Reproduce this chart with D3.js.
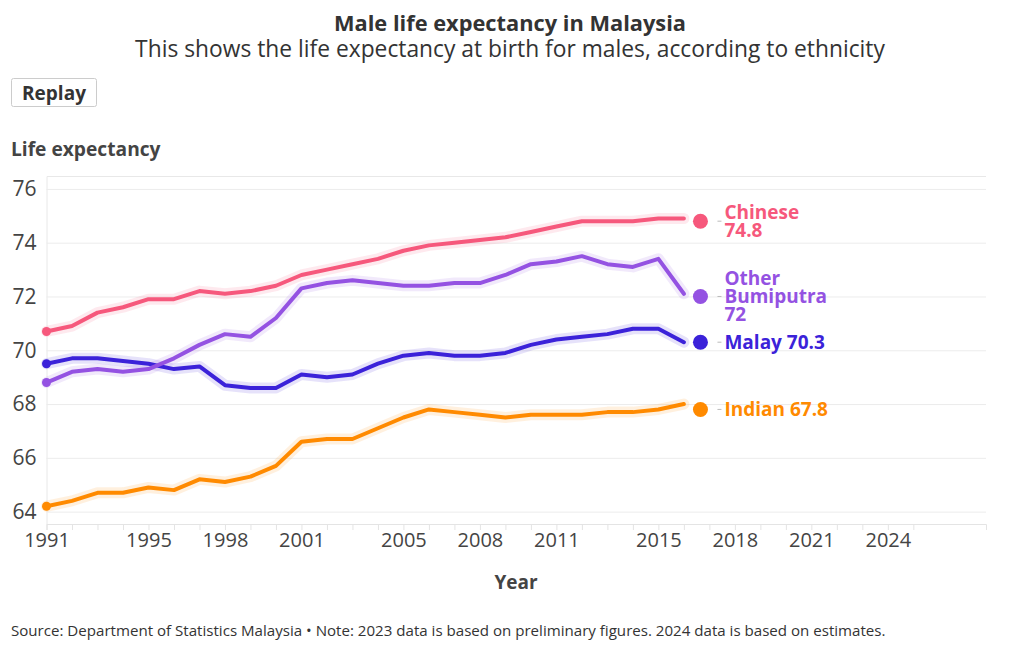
<!DOCTYPE html>
<html>
<head>
<meta charset="utf-8">
<script src="https://cdn.jsdelivr.net/npm/d3@7"></script>
<style>
  html, body { margin: 0; padding: 0; background: #fff; }
  body { width: 1020px; height: 650px; overflow: hidden; font-family: "Open Sans", "Lato", sans-serif; }
  svg { display: block; }
</style>
</head>
<body>
<svg id="chart" width="1020" height="650"></svg>
<script>
// ---------- data ----------
const years = d3.range(1991, 2017);
const seriesNames = ["Chinese", "Other Bumiputra", "Malay", "Indian"];
const seriesColors = ["#f6587c", "#9452e2", "#3b22d9", "#ff8a00"];
const chineseValues = [70.7, 70.9, 71.4, 71.6, 71.9, 71.9, 72.2, 72.1, 72.2, 72.4, 72.8, 73.0, 73.2, 73.4, 73.7, 73.9, 74.0, 74.1, 74.2, 74.4, 74.6, 74.8, 74.8, 74.8, 74.9, 74.9];
const otherBumiputraValues = [68.8, 69.2, 69.3, 69.2, 69.3, 69.7, 70.2, 70.6, 70.5, 71.2, 72.3, 72.5, 72.6, 72.5, 72.4, 72.4, 72.5, 72.5, 72.8, 73.2, 73.3, 73.5, 73.2, 73.1, 73.4, 72.1];
const malayValues = [69.5, 69.7, 69.7, 69.6, 69.5, 69.3, 69.4, 68.7, 68.6, 68.6, 69.1, 69.0, 69.1, 69.5, 69.8, 69.9, 69.8, 69.8, 69.9, 70.2, 70.4, 70.5, 70.6, 70.8, 70.8, 70.3];
const indianValues = [64.2, 64.4, 64.7, 64.7, 64.9, 64.8, 65.2, 65.1, 65.3, 65.7, 66.6, 66.7, 66.7, 67.1, 67.5, 67.8, 67.7, 67.6, 67.5, 67.6, 67.6, 67.6, 67.7, 67.7, 67.8, 68.0];
const endYear = 2016.65;
const endValues = [74.8, 72, 70.3, 67.8];
const yTicks = [64, 66, 68, 70, 72, 74, 76];
const xTickLabels = [1991, 1995, 1998, 2001, 2005, 2008, 2011, 2015, 2018, 2021, 2024];
const xMinorTicks = d3.range(1991, 2026);

const allValues = [chineseValues, otherBumiputraValues, malayValues, indianValues];

// ---------- layout ----------
const svg = d3.select("#chart");
const W = 1020;
const mLeft = 46.5, mRight = 986, mTop = 176, mBottom = 524;
const FONT = "'Open Sans', sans-serif";

const x = d3.scaleLinear().domain([1991, 2027.85]).range([mLeft, mRight]);
const y = d3.scaleLinear().domain([63.54, 76.48]).range([mBottom, mTop]);

// titles
svg.append("text").attr("x", W / 2).attr("y", 31).attr("text-anchor", "middle")
  .style("font-family", FONT).style("font-weight", 700).style("font-size", "21.8px")
  .attr("fill", "#333").text("Male life expectancy in Malaysia");
svg.append("text").attr("x", W / 2).attr("y", 57).attr("text-anchor", "middle")
  .style("font-family", FONT).style("font-weight", 400).style("font-size", "22.8px")
  .attr("fill", "#333").text("This shows the life expectancy at birth for males, according to ethnicity");

// replay button
const btn = svg.append("g");
btn.append("rect").attr("x", 11.5).attr("y", 78.5).attr("width", 85).attr("height", 28).attr("rx", 2)
  .attr("fill", "#fff").attr("stroke", "#ccc");
btn.append("text").attr("x", 54).attr("y", 99.5).attr("text-anchor", "middle")
  .style("font-family", FONT).style("font-weight", 700).style("font-size", "19px")
  .attr("fill", "#333").text("Replay");

// y axis title
svg.append("text").attr("x", 11).attr("y", 156)
  .style("font-family", FONT).style("font-weight", 700).style("font-size", "19.2px")
  .attr("fill", "#444").text("Life expectancy");

// gridlines + y axis
const yAxis = d3.axisLeft(y).tickValues(yTicks).tickSize(-(mRight - mLeft)).tickFormat(d3.format("d"));
const gy = svg.append("g").attr("transform", `translate(${mLeft},0)`).call(yAxis);
gy.select(".domain").attr("stroke", "#e8e8e8");
gy.selectAll(".tick line").attr("stroke", "#ececec");
gy.selectAll(".tick text").attr("x", -10).attr("fill", "#444")
  .style("font-family", FONT).style("font-size", "21px");

// x axis minor ticks
const xAxisMinor = d3.axisBottom(x).tickValues(xMinorTicks).tickSize(6).tickFormat("");
const gxm = svg.append("g").attr("transform", `translate(0,${mBottom})`).call(xAxisMinor);
gxm.select(".domain").attr("stroke", "#e4e4e4");
gxm.selectAll(".tick line").attr("stroke", "#e4e4e4");

const xAxis = d3.axisBottom(x).tickValues(xTickLabels).tickSize(0).tickFormat(d3.format("d"));
const gx = svg.append("g").attr("transform", `translate(0,${mBottom})`).call(xAxis);
gx.select(".domain").remove();
gx.selectAll(".tick text").attr("y", 9).attr("dy", "0.71em").attr("fill", "#444")
  .style("font-family", FONT).style("font-size", "20px");

// x axis title
svg.append("text").attr("x", 516).attr("y", 589).attr("text-anchor", "middle")
  .style("font-family", FONT).style("font-weight", 700).style("font-size", "19px")
  .attr("fill", "#444").text("Year");

// source
svg.append("text").attr("x", 11).attr("y", 636)
  .style("font-family", FONT).style("font-size", "15.1px")
  .attr("fill", "#333").text("Source: Department of Statistics Malaysia • Note: 2023 data is based on preliminary figures. 2024 data is based on estimates.");

// lines
const line = d3.line().x((d, i) => x(years[i])).y(d => y(d));
const plot = svg.append("g");
const order = [3, 2, 1, 0];
order.forEach(k => {
  plot.append("path").datum(allValues[k]).attr("d", line).attr("fill", "none")
    .attr("stroke", seriesColors[k]).attr("stroke-opacity", 0.13).attr("stroke-width", 11)
    .attr("stroke-linejoin", "round").attr("stroke-linecap", "round");
});
order.forEach(k => {
  plot.append("path").datum(allValues[k]).attr("d", line).attr("fill", "none")
    .attr("stroke", seriesColors[k]).attr("stroke-width", 4)
    .attr("stroke-linejoin", "round").attr("stroke-linecap", "round");
  plot.append("circle").attr("cx", x(years[0])).attr("cy", y(allValues[k][0])).attr("r", 4.5)
    .attr("fill", seriesColors[k]);
});

// end dots and labels
const labelG = svg.append("g");
const LFS = "19px";
seriesNames.forEach((name, k) => {
  const cx = x(endYear), cy = y(endValues[k]);
  labelG.append("circle").attr("cx", cx).attr("cy", cy).attr("r", 7.5).attr("fill", seriesColors[k]);
  labelG.append("line").attr("x1", cx + 17).attr("x2", cx + 21).attr("y1", cy).attr("y2", cy)
    .attr("stroke", "#bbb").attr("stroke-width", 1);
  const words = (name + " " + endValues[k]).split(" ");
  const t = labelG.append("text").attr("x", cx + 24)
    .style("font-family", FONT).style("font-weight", 700).style("font-size", LFS)
    .attr("fill", seriesColors[k]);
  const maxW = 112;
  let lines = [], cur = [];
  const probe = labelG.append("text").style("font-family", FONT).style("font-weight", 700).style("font-size", LFS);
  words.forEach(w => {
    const test = cur.concat([w]).join(" ");
    probe.text(test);
    if (cur.length && probe.node().getComputedTextLength() > maxW) { lines.push(cur.join(" ")); cur = [w]; }
    else cur.push(w);
  });
  lines.push(cur.join(" "));
  probe.remove();
  const lh = 17.8;
  const y0 = cy - (lines.length - 1) * lh / 2;
  lines.forEach((l, i) => {
    t.append("tspan").attr("x", cx + 24).attr("y", y0 + i * lh).attr("dy", "0.35em").text(l);
  });
});
</script>
</body>
</html>
